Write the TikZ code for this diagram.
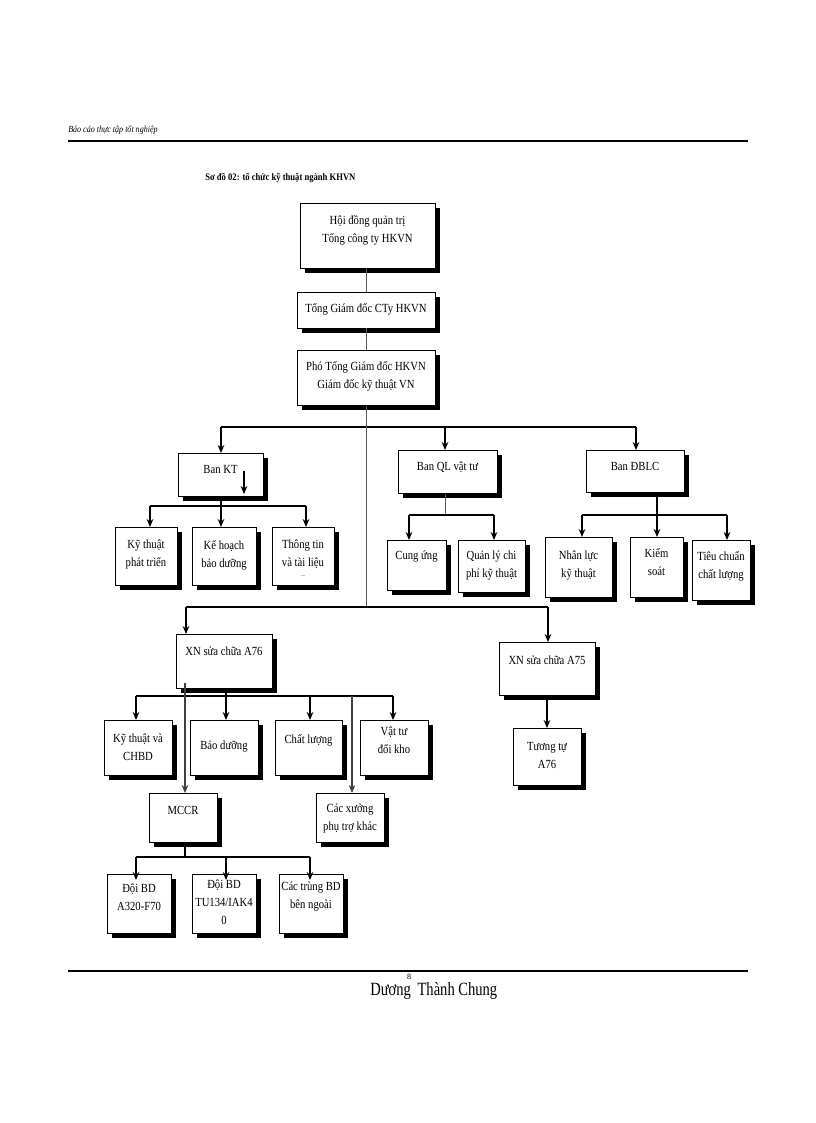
\documentclass[tikz,border=0pt]{standalone}
\usepackage{fontspec}
\setmainfont{Liberation Serif}
\newfontfamily\cond{Liberation Serif}[FakeStretch=0.86]
\newfontfamily\condf{Liberation Serif}[FakeStretch=0.78]
\usetikzlibrary{arrows.meta,shadows}
\begin{document}
\begin{tikzpicture}[x=0.75pt,y=-0.75pt,
  box/.style={draw,line width=1pt,fill=white,inner sep=0pt,anchor=north west,
    drop shadow={shadow xshift=3pt,shadow yshift=-3pt,fill=black,opacity=1}},
  txt/.style={align=center,font=\cond\fontsize{9.3}{13.5}\selectfont,inner sep=0pt},
  bus/.style={line width=1.6pt},
  thin/.style={line width=0.6pt,draw=gray!70!black},
  arr/.style={line width=1pt,-{Stealth[length=6pt,width=5pt]}},
  tarr/.style={line width=0.8pt,draw=gray!50!black,-{Stealth[length=6pt,width=5pt]}}]
\useasboundingbox (0,0) rectangle (816,1123);
\newcommand{\bx}[7]{%
  \node[box,minimum width={(#4-#2)*0.75pt},minimum height={(#5-#3)*0.75pt}] (#1) at (#2,#3) {};
  \node[txt] (#1t) at ({(#2+#4)/2},#6) {#7};}
% header / footer
\node[anchor=west,font=\cond\fontsize{7}{8}\selectfont\itshape,inner sep=0pt] (hdr) at (68,130) {Báo cáo thực tập tốt nghiệp};
\draw[line width=1pt] (68,141) coordinate (hl) -- (748,141) coordinate (hr);
\node[anchor=west,font=\cond\fontsize{7.5}{8}\selectfont\bfseries,inner sep=0pt] (ttl) at (205,178) {Sơ đồ 02: tổ chức kỹ thuật ngành KHVN};
\draw[line width=1pt] (68,971) coordinate (fl) -- (748,971) coordinate (fr);
\node[anchor=west,font=\condf\fontsize{14}{15}\selectfont,inner sep=0pt] (ftr) at (370,991) {Dương\hspace{5pt}Thành Chung};
\node[font=\fontsize{6}{7}\selectfont,inner sep=0pt] (pg) at (409,977) {8};
% top chain
\bx{hd}{300}{203}{435}{268}{230}{Hội đồng quản trị\\Tổng công ty HKVN}
\bx{tgd}{297}{292}{435}{328}{309}{Tổng Giám đốc CTy HKVN}
\bx{pho}{297}{350}{435}{405}{376}{Phó Tổng Giám đốc HKVN\\Giám đốc kỹ thuật VN}
\draw[thin] (366,268) -- (tgd.north -| 366,0);
\draw[thin] (366,328) -- (pho.north -| 366,0);
% level 2
\bx{kt}{178}{453}{263}{496}{469}{Ban KT}
\bx{ql}{398}{450}{497}{493}{467}{Ban QL vật tư}
\bx{db}{586}{450}{684}{492}{466}{Ban ĐBLC}
\coordinate (b1l) at (221,427); \coordinate (b1r) at (636,427);
\draw[bus] (b1l) -- (b1r);
\draw[arr] (b1l) -- (kt.north -| b1l);
\draw[arr] (445,427) -- (ql.north -| 445,0);
\draw[arr] (b1r) -- (db.north -| b1r);
\draw[arr,line width=0.8pt] (244,471) -- (244,494);
% central trunk
\coordinate (c2) at (366,607);
\draw[thin] (pho.south -| 366,0) -- (c2);
% Ban KT children
\bx{kt1}{115}{527}{177}{585}{555}{Kỹ thuật\\phát triển}
\bx{kt2}{192}{527}{256}{585}{555}{Kế hoạch\\bảo dưỡng}
\bx{kt3}{272}{527}{334}{585}{558}{Thông tin\\và tài liệu\\[-6pt]{\fontsize{4}{4}\selectfont ....}}
\draw[bus] (150,506) -- (306,506);
\draw[arr] (kt.south -| 221,0) -- (kt2.north -| 221,0);
\draw[arr] (150,506) -- (kt1.north -| 150,0);
\draw[arr] (306,506) -- (kt3.north -| 306,0);
% Ban QL children
\bx{ql1}{387}{540}{446}{590}{557}{Cung ứng}
\bx{ql2}{458}{540}{525}{592}{566}{Quản lý chi\\phí kỹ thuật}
\draw[thin] (ql.south -| 445,0) -- (445,515);
\draw[bus] (409,515) -- (494,515);
\draw[arr] (409,515) -- (ql1.north -| 409,0);
\draw[arr] (494,515) -- (ql2.north -| 494,0);
% Ban DBLC children
\bx{db1}{545}{537}{612}{597}{566}{Nhân lực\\kỹ thuật}
\bx{db2}{630}{537}{683}{597}{562}{Kiểm\\soát}
\bx{db3}{692}{540}{750}{600}{566}{Tiêu chuẩn\\chất lượng}
\draw[line width=1pt] (db.south -| 657,0) -- (657,515);
\draw[bus] (582,515) -- (727,515);
\draw[arr] (582,515) -- (db1.north -| 582,0);
\draw[arr] (657,515) -- (db2.north -| 657,0);
\draw[arr] (727,515) -- (db3.north -| 727,0);
% XN level
\bx{a76}{176}{634}{272}{688}{651}{XN sửa chữa A76}
\bx{a75}{499}{642}{595}{695}{660}{XN sửa chữa A75}
\bx{tt}{513}{728}{581}{785}{755}{Tương tự\\A76}
\draw[bus] (186,607) -- (548,607);
\draw[arr] (186,607) -- (a76.north -| 186,0);
\draw[arr] (548,607) -- (a75.north -| 548,0);
\draw[arr] (a75.south -| 547,0) -- (tt.north -| 547,0);
% A76 children
\bx{x1}{104}{720}{172}{775}{747}{Kỹ thuật và\\CHBD}
\bx{x2}{190}{720}{258}{775}{747}{Bảo dưỡng}
\bx{x3}{275}{720}{342}{775}{740}{Chất lượng}
\bx{x4}{360}{720}{428}{775}{740}{Vật tư\\đổi kho}
\draw[bus] (136,696) -- (393,696);
\draw[arr] (a76.south -| 226,0) -- (x2.north -| 226,0);
\draw[arr] (136,696) -- (x1.north -| 136,0);
\draw[arr] (310,696) -- (x3.north -| 310,0);
\draw[arr] (393,696) -- (x4.north -| 393,0);
\bx{mc}{149}{793}{217}{842}{810}{MCCR}
\bx{cx}{316}{793}{384}{842}{818}{Các xưởng\\phụ trợ khác}
\draw[tarr] (185,683) -- (mc.north -| 185,0);
\draw[tarr] (352,696) -- (cx.north -| 352,0);
% MCCR children
\bx{m1}{107}{874}{171}{933}{897}{Đội BD\\A320-F70}
\bx{m2}{192}{874}{256}{933}{902}{Đội BD\\TU134/IAK4\\0}
\bx{m3}{279}{874}{343}{933}{897}{Các trùng BD\\bên ngoài}
\draw[line width=1pt] (mc.south -| 185,0) -- (185,857);
\draw[bus] (136,857) -- (310,857);
\draw[arr] (136,857) -- (136,880);
\draw[arr] (226,857) -- (226,880);
\draw[arr] (310,857) -- (310,880);
\end{tikzpicture}
\end{document}
